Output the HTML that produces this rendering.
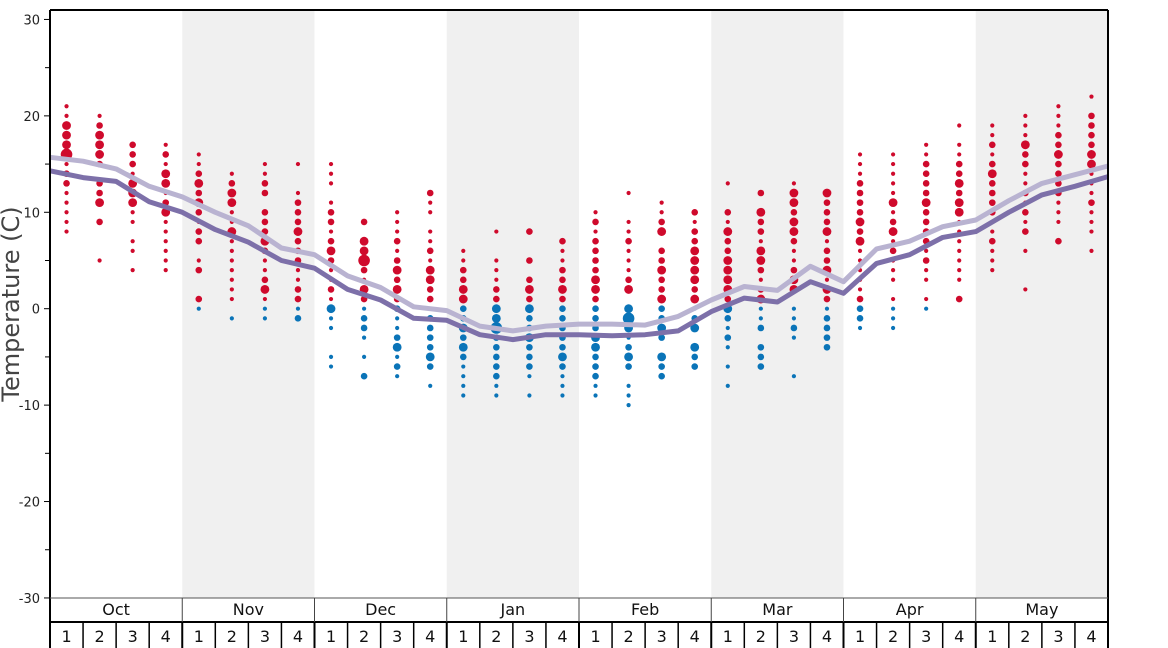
<!DOCTYPE html>
<html><head><meta charset="utf-8"><style>
html,body{margin:0;padding:0;background:#fff;width:1168px;height:648px;overflow:hidden}
svg{display:block;font-family:"DejaVu Sans","Liberation Sans",sans-serif}
</style></head><body>
<svg id="chart" width="1168" height="648" viewBox="0 0 1168 648" xmlns="http://www.w3.org/2000/svg"></svg>
<script>
const months = ["Oct","Nov","Dec","Jan","Feb","Mar","Apr","May"];
const weeks = ["1","2","3","4"];
const yTicks = [30,20,10,0,-10,-20,-30];
const yMinorTicks = [25,15,5,-5,-15,-25];
// line values at week boundaries (33 points)
const darkLine = [14.3,13.6,13.2,11.1,10.0,8.2,6.9,5.0,4.2,2.0,0.9,-1.0,-1.2,-2.7,-3.2,-2.7,-2.7,-2.8,-2.7,-2.3,-0.3,1.1,0.7,2.8,1.6,4.7,5.6,7.4,8.0,10.0,11.8,12.7,13.7];
const lightLine = [15.7,15.3,14.5,12.7,11.6,10.0,8.6,6.3,5.6,3.4,2.2,0.2,-0.2,-1.8,-2.3,-1.8,-1.6,-1.6,-1.7,-0.8,0.9,2.3,1.9,4.4,2.8,6.2,7.0,8.5,9.2,11.2,13.0,13.9,14.8];
// dot observations per week: "temp:size"
const weekDots = [
"21:1 20:1 19:3 18:3 17:3 16:4 15:1 14:2 13:2 12:1 11:1 10:1 9:1 8:1",
"20:1 19:2 18:3 17:3 16:3 15:2 13:2 12:2 11:3 9:2 5:1",
"17:2 16:2 15:2 14:1 13:3 12:3 11:3 10:1 9:1 7:1 6:1 4:1",
"17:1 16:2 15:1 14:3 13:3 12:1 11:2 10:3 9:1 8:1 7:1 6:1 5:1 4:1",
"16:1 15:1 14:2 13:3 12:2 11:3 10:2 9:1 8:2 7:2 5:1 4:2 1:2 0:1",
"14:1 13:2 12:3 11:3 10:1 9:1 8:3 7:1 6:1 5:1 4:1 3:1 2:1 1:1 -1:1",
"15:1 14:1 13:2 12:2 10:2 9:2 8:2 7:3 6:2 5:1 4:1 3:2 2:3 1:1 0:1 -1:1",
"15:1 12:1 11:2 10:2 9:2 8:3 7:2 6:2 5:2 4:1 3:1 2:2 1:2 0:1 -1:2",
"15:1 14:1 13:1 11:1 10:2 9:2 8:1 7:2 6:3 5:2 4:1 3:1 2:2 1:1 0:3 -1:1 -2:1 -5:1 -6:1",
"9:2 7:3 6:3 5:4 4:2 3:1 2:3 1:2 0:1 -1:2 -2:2 -3:1 -5:1 -7:2",
"10:1 9:1 8:1 7:2 6:1 5:2 4:3 3:2 2:3 1:2 0:2 -1:1 -2:1 -3:2 -4:3 -5:1 -6:2 -7:1",
"12:2 11:1 10:1 8:1 7:1 6:2 5:1 4:3 3:3 2:2 1:2 0:1 -1:2 -2:2 -3:2 -4:2 -5:3 -6:2 -8:1",
"6:1 5:1 4:2 3:2 2:3 1:3 0:2 -1:2 -2:3 -3:2 -4:3 -5:2 -6:1 -7:1 -8:1 -9:1",
"8:1 5:1 4:1 3:1 2:2 1:2 0:3 -1:3 -2:4 -3:2 -4:2 -5:2 -6:2 -7:2 -8:1 -9:1",
"8:2 5:2 3:2 2:3 1:2 0:3 -1:2 -2:2 -3:3 -4:2 -5:2 -6:2 -7:1 -9:1",
"7:2 6:1 5:1 4:2 3:2 2:3 1:2 0:2 -1:2 -2:2 -3:2 -4:2 -5:3 -6:2 -7:1 -8:1 -9:1",
"10:1 9:2 8:1 7:2 6:2 5:2 4:2 3:3 2:3 1:2 0:2 -1:2 -2:2 -3:3 -4:3 -5:2 -6:2 -7:2 -8:1 -9:1",
"12:1 9:1 8:1 7:2 6:1 5:1 4:1 3:2 2:3 0:3 -1:4 -2:3 -3:1 -4:2 -5:3 -6:2 -8:1 -9:1 -10:1",
"11:1 10:1 9:2 8:3 6:2 5:2 4:3 3:2 2:2 1:3 0:2 -1:2 -2:3 -3:2 -5:3 -6:2 -7:2",
"10:2 9:1 8:2 7:2 6:3 5:3 4:3 3:3 2:2 1:3 0:1 -1:2 -2:3 -4:3 -5:2 -6:2",
"13:1 10:2 9:1 8:3 7:2 6:2 5:3 4:3 3:3 2:3 1:2 0:3 -1:2 -2:1 -3:2 -4:1 -6:1 -8:1",
"12:2 10:3 9:2 8:2 7:1 6:3 5:3 4:2 3:1 2:2 1:3 0:1 -1:1 -2:2 -4:2 -5:2 -6:2",
"13:1 12:3 11:3 10:2 9:3 8:3 7:2 6:1 5:1 4:2 3:3 2:3 0:1 -1:1 -2:2 -3:1 -7:1",
"12:3 11:2 10:2 9:2 8:3 7:1 6:2 5:2 4:3 3:1 2:3 1:2 0:1 -1:2 -2:2 -3:2 -4:2",
"16:1 15:1 14:1 13:2 12:2 11:2 10:2 9:3 8:2 7:3 6:1 5:1 4:1 3:1 2:1 1:2 0:2 -1:2 -2:1",
"16:1 15:1 14:1 13:1 12:1 11:3 10:1 9:2 8:3 7:1 6:2 5:1 4:1 3:1 1:1 0:1 -1:1 -2:1",
"17:1 16:1 15:2 14:2 13:2 12:2 11:3 10:2 9:2 8:2 7:2 6:1 5:2 4:1 3:1 1:1 0:1",
"19:1 17:1 16:1 15:2 14:2 13:3 12:2 11:3 10:3 9:1 8:1 7:1 6:1 5:1 4:1 3:1 1:2",
"19:1 18:1 17:2 16:1 15:2 14:3 13:2 12:2 11:2 10:2 9:1 8:1 7:2 6:1 5:1 4:1",
"20:1 19:1 18:1 17:3 16:2 15:2 14:1 13:1 12:2 11:1 10:2 9:1 8:2 6:1 2:1",
"21:1 20:1 19:1 18:2 17:2 16:3 15:2 14:2 13:2 12:2 11:1 10:1 9:1 7:2",
"22:1 20:2 19:2 18:2 17:2 16:3 15:3 14:1 13:1 12:1 11:2 10:1 9:1 8:1 6:1"
];

const NS="http://www.w3.org/2000/svg";
const svg=document.getElementById('chart');
const X0=50, X1=1108, YT=10, YB=598;
const nW=months.length*weeks.length, colW=(X1-X0)/nW;
const y=v=>308.7-v*(578.5/60);
const xb=k=>X0+k*colW;
const xc=i=>X0+(i+0.5)*colW;
const R=[0,2.1,3.3,4.4,5.8];
function mk(tag,attrs,parent){const e=document.createElementNS(NS,tag);for(const k in attrs)e.setAttribute(k,attrs[k]);(parent||svg).appendChild(e);return e;}

// bands
months.forEach((m,i)=>{ if(i%2===1){
  const r=mk('rect',{x:xb(i*4),y:YT,width:colW*4,height:YB-YT,fill:'#f0f0f0'});
  
  
}});

// dots
weekDots.forEach((s,i)=>{
  const g=mk('g',{});
  
  
  s.split(' ').forEach(p=>{
    const [t,sz]=p.split(':').map(Number);
    const c=mk('circle',{cx:xc(i),cy:y(t),r:R[sz],fill:t>0?'#cf0a2c':'#0a74b8'},g);
    
    
  });
});

// lines
function line(vals,color,name){
  const d=vals.map((v,k)=>(k?'L':'M')+xb(k).toFixed(1)+','+y(v).toFixed(1)).join(' ');
  const p=mk('path',{d:d,fill:'none',stroke:color,'stroke-width':5,'stroke-linejoin':'round'});
  
  
}
line(lightLine,'#b9b3d1','light-temp-line');
line(darkLine,'#7d70a9','dark-temp-line');

// frame
const fr=mk('path',{d:`M${X0},${YT} L${X1},${YT} M${X1},${YT} L${X1},648 M${X0},${YT} L${X0},648`,stroke:'#000','stroke-width':2,fill:'none'});



// y ticks
yTicks.forEach(v=>{
  const tk=mk('line',{x1:44,x2:X0,y1:y(v),y2:y(v),stroke:'#000','stroke-width':1});
  
  
  const t=mk('text',{x:40,y:y(v)+5,'text-anchor':'end','font-size':13,fill:'#222'});
  t.textContent=v;
  
  
});
yMinorTicks.forEach(v=>{
  const tk=mk('line',{x1:45,x2:X0,y1:y(v),y2:y(v),stroke:'#000','stroke-width':1});
  
  
});
const yt=mk('text',{x:0,y:0,transform:'translate(19,304) rotate(-90)','text-anchor':'middle','font-size':24,fill:'#444'});
yt.textContent='Temperature (C)';



// bottom axis
const ax=mk('path',{d:`M${X0},${YB} L${X1},${YB}`,stroke:'#555','stroke-width':1});


const ax2=mk('path',{d:`M${X0},622 L${X1},622`,stroke:'#000','stroke-width':2});


months.forEach((m,i)=>{
  if(i>0){const l=mk('line',{x1:xb(i*4),x2:xb(i*4),y1:YB,y2:622,stroke:'#444','stroke-width':1});
    
    }
  const t=mk('text',{x:xb(i*4)+colW*2,y:615,'text-anchor':'middle','font-size':16,fill:'#111'});
  t.textContent=m;
  
  
  weeks.forEach((w,j)=>{
    const k=i*4+j;
    if(k>0){const l=mk('line',{x1:xb(k),x2:xb(k),y1:622,y2:648,stroke:'#000','stroke-width':k%4===0?2:1.5});
      
      }
    const tt=mk('text',{x:xc(k),y:642,'text-anchor':'middle','font-size':16,fill:'#111'});
    tt.textContent=w;
    
    
  });
});
</script>
</body></html>
